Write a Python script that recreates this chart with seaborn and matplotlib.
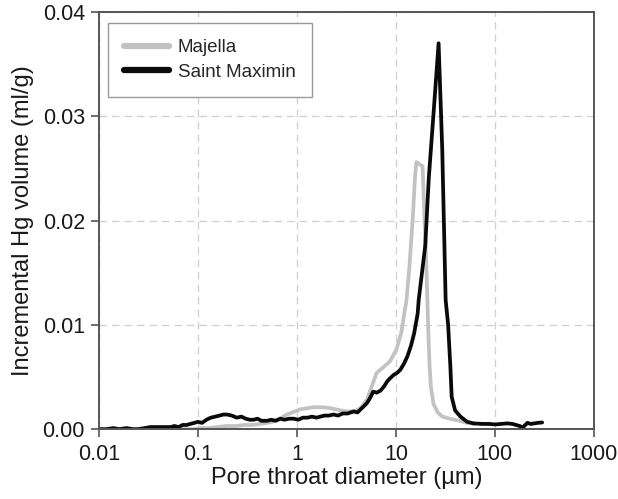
import matplotlib
matplotlib.use("Agg")
import matplotlib.pyplot as plt
import seaborn as sns
import pandas as pd

# Pore throat diameter (um) and incremental Hg volume (ml/g)
d_saint_maximin = [0.010, 0.012, 0.014, 0.016, 0.019, 0.022, 0.025, 0.029, 0.033, 0.038,
                   0.043, 0.048, 0.053, 0.058, 0.064, 0.070, 0.077, 0.084, 0.092, 0.100,
                   0.110, 0.122, 0.135, 0.150, 0.165, 0.181, 0.198, 0.220, 0.247, 0.275,
                   0.305, 0.335, 0.364, 0.40, 0.44, 0.50, 0.55, 0.61, 0.68, 0.75,
                   0.83, 0.93, 1.03, 1.15, 1.28, 1.42, 1.58, 1.72, 1.90, 2.10,
                   2.35, 2.60, 2.90, 3.25, 3.75, 4.10, 4.40, 4.75, 5.10, 5.50,
                   5.90, 6.40, 7.00, 7.60, 8.20, 8.80, 9.50, 10.3, 11.1, 12.1,
                   13.1, 14.2, 15.3, 16.6, 17.0, 19.8, 21.5, 24.1, 27.0, 29.4,
                   31.8, 33.7, 35.5, 36.6, 39.6, 44.9, 52.5, 61, 75, 88,
                   100, 115, 133, 150, 164, 178, 191, 213, 230, 249,
                   270, 300]
v_saint_maximin = [0.0000, 0.0000, 0.0001, 0.0000, 0.0001, 0.0000, 0.0000, 0.0001, 0.0002, 0.0002,
                   0.0002, 0.0002, 0.0002, 0.0003, 0.0002, 0.0004, 0.0004, 0.0005, 0.0006, 0.0007,
                   0.0006, 0.0009, 0.0011, 0.0012, 0.0013, 0.0014, 0.0014, 0.0013, 0.0011, 0.0012,
                   0.0010, 0.0009, 0.0009, 0.0010, 0.0008, 0.0008, 0.0009, 0.0008, 0.0010, 0.0009,
                   0.0010, 0.0010, 0.0009, 0.0011, 0.0011, 0.0012, 0.0011, 0.0012, 0.0013, 0.0013,
                   0.0014, 0.0013, 0.0015, 0.0015, 0.0017, 0.0016, 0.0019, 0.0022, 0.0025, 0.0030,
                   0.0036, 0.0035, 0.0037, 0.0041, 0.0046, 0.0049, 0.0052, 0.0054, 0.0057, 0.0063,
                   0.0070, 0.0080, 0.0092, 0.0111, 0.0124, 0.0176, 0.0241, 0.0305, 0.0370, 0.0268,
                   0.0124, 0.0100, 0.0060, 0.0031, 0.0018, 0.0012, 0.0007, 0.00055, 0.0005, 0.0005,
                   0.00045, 0.0005, 0.00055, 0.0005, 0.0004, 0.0003, 0.00016, 0.0006, 0.0005, 0.00055,
                   0.0006, 0.00064]

d_majella = [0.030, 0.050, 0.070, 0.090, 0.105, 0.13, 0.16, 0.196, 0.24, 0.30,
             0.36, 0.42, 0.50, 0.57, 0.63, 0.70, 0.79, 0.90, 1.08, 1.25,
             1.47, 1.60, 1.85, 2.20, 2.75, 3.2, 3.8, 4.4, 5.1, 5.7,
             6.4, 7.6, 8.7, 10.1, 11.3, 12.8, 13.7, 14.9, 15.6, 16.1,
             18.6, 20.3, 21.3, 21.9, 22.6, 24.0, 26.5, 29.5, 35, 44,
             52, 62]
v_majella = [0.0000, 0.0000, 0.0000, 0.0000, 0.0001, 0.0001, 0.0002, 0.0003, 0.0003, 0.0004,
             0.0004, 0.0005, 0.0006, 0.0007, 0.0009, 0.0011, 0.0014, 0.0016, 0.0019, 0.0020,
             0.0021, 0.0021, 0.0021, 0.0020, 0.0018, 0.0017, 0.0017, 0.0020, 0.0028, 0.0041,
             0.0054, 0.0060, 0.0065, 0.0076, 0.0092, 0.0124, 0.0156, 0.0207, 0.0242, 0.0256,
             0.0252, 0.0156, 0.0092, 0.0060, 0.0040, 0.0024, 0.0016, 0.0012, 0.0010, 0.0008,
             0.0006, 0.0005]

samples = ["Majella", "Saint Maximin"]
x_ticks = [0.01, 0.1, 1, 10, 100, 1000]
x_tick_labels = ["0.01", "0.1", "1", "10", "100", "1000"]
y_ticks = [0.00, 0.01, 0.02, 0.03, 0.04]
y_tick_labels = ["0.00", "0.01", "0.02", "0.03", "0.04"]

df = pd.concat([
    pd.DataFrame({"diameter": d_majella, "volume": v_majella, "sample": samples[0]}),
    pd.DataFrame({"diameter": d_saint_maximin, "volume": v_saint_maximin, "sample": samples[1]}),
], ignore_index=True)

sns.set_style("white")
plt.rcParams["font.family"] = ["Liberation Sans", "DejaVu Sans"]

fig = plt.figure(figsize=(6.18, 4.99), dpi=100)
ax = fig.add_axes([0.160, 0.140, 0.801, 0.836])

sns.lineplot(data=df, x="diameter", y="volume", hue="sample", hue_order=samples,
             palette={"Majella": "#c2c2c2", "Saint Maximin": "#0a0a0a"},
             sort=False, estimator=None, linewidth=2.7, ax=ax)

ax.set_xscale("log")
ax.set_xlim(0.01, 1000)
ax.set_ylim(0, 0.04)
ax.set_xticks(x_ticks)
ax.set_xticklabels(x_tick_labels)
ax.set_yticks(y_ticks)
ax.set_yticklabels(y_tick_labels)
ax.minorticks_off()

ax.grid(True, which="major", linestyle=(0, (6, 4)), color="#cfcfcf", linewidth=0.9)
for s in ax.spines.values():
    s.set_color("#555555")
    s.set_linewidth(1.4)
ax.tick_params(axis="both", which="major", direction="out", length=6, width=1.2,
               color="#555555", labelsize=15.5, labelcolor="#1a1a1a",
               bottom=True, left=True)
ax.tick_params(axis="x", pad=5)
ax.tick_params(axis="y", pad=4)

ax.set_xlabel("Pore throat diameter (\u00b5m)", fontsize=17, color="#1a1a1a", labelpad=1)
ax.set_ylabel("Incremental Hg volume (ml/g)", fontsize=17, color="#1a1a1a", labelpad=6)

leg = ax.legend(loc="upper left", bbox_to_anchor=(0.018, 0.974), borderaxespad=0,
                fontsize=13.5, frameon=True, fancybox=False, edgecolor="#999999",
                framealpha=1, handlelength=2.4, handletextpad=0.45, borderpad=0.88,
                labelspacing=0.38, title=None)
leg.get_frame().set_linewidth(1.0)
for line in leg.get_lines():
    line.set_linewidth(4.5)

fig.savefig("out.png", dpi=100)
